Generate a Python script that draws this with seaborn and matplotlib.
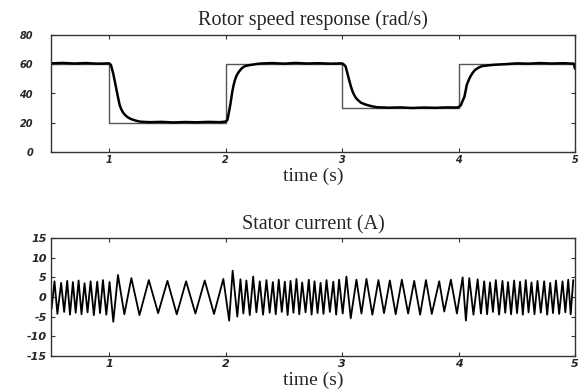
import pandas as pd
import numpy as np
import seaborn as sns
import matplotlib.pyplot as plt

# reference speed (step) in rad/s
ref_t = [0.5, 1.0, 2.0, 3.0, 4.0, 5.0]
ref_w = [60, 20, 60, 30, 60, 60]

spd_t = [0.5, 0.6, 0.7, 0.8, 0.9, 1.0, 1.015, 1.035, 1.05, 1.063, 1.077, 1.09, 1.105, 1.12, 1.14,
         1.16, 1.185, 1.21, 1.24, 1.27, 1.35, 1.45, 1.55, 1.65, 1.75, 1.85, 1.95, 2.0, 2.015, 2.025,
         2.037, 2.047, 2.057, 2.068, 2.08, 2.095, 2.115, 2.135, 2.16, 2.19, 2.22, 2.26, 2.3, 2.4, 2.5,
         2.6, 2.7, 2.8, 2.9, 3.0, 3.015, 3.03, 3.045, 3.06, 3.075, 3.09, 3.105, 3.12, 3.14, 3.16,
         3.19, 3.22, 3.26, 3.3, 3.4, 3.5, 3.6, 3.7, 3.8, 3.9, 3.99, 4.005, 4.02, 4.035, 4.05,
         4.06, 4.07, 4.085, 4.1, 4.12, 4.14, 4.17, 4.2, 4.25, 4.3, 4.41, 4.5, 4.6, 4.7, 4.8,
         4.9, 4.99, 5.0]
spd_w = [60.6, 60.9, 60.5, 60.8, 60.4, 60.6, 59.5, 53.4, 47.5, 42.3, 36.8, 32.0, 29.0, 26.8, 25.0,
         23.7, 22.6, 21.9, 21.2, 20.7, 20.4, 20.6, 20.2, 20.5, 20.3, 20.6, 20.4, 20.8, 21.9, 26.0,
         31.0, 36.0, 41.3, 45.7, 49.3, 52.5, 55.0, 57.0, 58.5, 59.2, 59.6, 60.1, 60.5, 60.8, 60.4,
         60.9, 60.5, 60.7, 60.4, 60.6, 59.8, 58.5, 54.0, 49.3, 45.0, 41.3, 38.8, 36.8, 35.2, 33.8,
         32.8, 32.0, 31.2, 30.6, 30.3, 30.5, 30.1, 30.4, 30.2, 30.5, 30.4, 31.0, 32.0, 35.0, 37.7,
         41.5, 45.7, 48.8, 51.4, 54.0, 56.0, 57.6, 58.7, 59.2, 59.6, 60.1, 60.6, 60.4, 60.8, 60.5,
         60.7, 60.4, 57.0]

# stator current: peaks and troughs
peak_t = [0.53, 0.587, 0.639, 0.688, 0.737, 0.788, 0.84, 0.897, 0.946, 1.003, 1.075, 1.19, 1.34,
          1.50, 1.66, 1.82, 1.98, 2.06, 2.127, 2.178, 2.236, 2.293, 2.35, 2.405, 2.456, 2.508,
          2.557, 2.608, 2.657, 2.714, 2.763, 2.815, 2.866, 2.924, 2.974, 3.037, 3.123, 3.209,
          3.312, 3.41, 3.513, 3.619, 3.72, 3.834, 3.934, 4.035, 4.092, 4.164, 4.22, 4.27, 4.32,
          4.377, 4.425, 4.477, 4.528, 4.577, 4.626, 4.678, 4.735, 4.787, 4.836, 4.893, 4.942, 4.985]
peak_i = [4.0, 3.6, 4.1, 3.8, 4.2, 3.5, 4.0, 3.9, 4.3, 3.8, 5.6, 4.8, 4.3,
          4.1, 4.0, 4.2, 4.6, 6.7, 4.5, 4.2, 5.2, 4.0, 4.3, 3.8, 4.4, 3.9,
          4.1, 4.6, 3.7, 4.4, 4.0, 3.6, 4.3, 3.9, 4.4, 5.2, 4.4, 4.6,
          4.3, 4.2, 4.4, 4.1, 4.3, 4.0, 4.4, 5.0, 4.8, 4.5, 4.0, 3.7, 4.3,
          4.1, 3.8, 4.2, 3.9, 4.3, 3.7, 4.1, 4.0, 3.6, 4.2, 4.0, 4.4, 4.3]
trough_t = [0.505, 0.555, 0.613, 0.663, 0.712, 0.762, 0.814, 0.868, 0.921, 0.975, 1.035, 1.13,
            1.26, 1.42, 1.58, 1.74, 1.90, 2.03, 2.10, 2.152, 2.207, 2.264, 2.321, 2.378, 2.43,
            2.482, 2.532, 2.582, 2.632, 2.686, 2.738, 2.789, 2.84, 2.895, 2.949, 3.005, 3.074,
            3.166, 3.26, 3.36, 3.46, 3.567, 3.67, 3.77, 3.877, 3.986, 4.063, 4.128, 4.192, 4.245,
            4.295, 4.348, 4.401, 4.451, 4.502, 4.552, 4.601, 4.652, 4.706, 4.761, 4.811, 4.864,
            4.917, 4.963]
trough_i = [-3.0, -4.3, -3.8, -4.5, -4.0, -4.4, -3.9, -4.6, -4.1, -4.5, -6.3, -4.4,
            -4.6, -4.1, -4.4, -4.2, -4.3, -6.0, -5.0, -4.2, -4.6, -3.9, -4.5, -4.0, -4.4,
            -3.8, -4.6, -4.0, -4.4, -3.9, -4.5, -4.1, -4.3, -3.8, -4.5, -4.2, -5.4,
            -4.2, -4.5, -4.1, -4.4, -4.2, -4.5, -4.3, -3.7, -4.2, -6.0, -4.5, -4.2, -4.4,
            -3.8, -4.5, -4.0, -4.4, -4.1, -4.5, -3.9, -4.4, -4.0, -4.5, -4.1, -4.3,
            -3.9, -4.4]

x_ticks = [1, 2, 3, 4, 5]
spd_yticks = [0, 20, 40, 60, 80]
cur_yticks = [-15, -10, -5, 0, 5, 10, 15]

ref = pd.DataFrame({'t': ref_t, 'w': ref_w})
spd = pd.DataFrame({'t': spd_t, 'w': spd_w})
cur = pd.concat([pd.DataFrame({'t': peak_t, 'i': peak_i}),
                 pd.DataFrame({'t': trough_t, 'i': trough_i})]).sort_values('t')

sns.set_style('ticks')
fig = plt.figure(figsize=(5.81, 3.92), dpi=100)
ax1 = fig.add_axes([51/581, 1-152/392, 524/581, 117/392])
ax2 = fig.add_axes([51/581, 1-356/392, 524/581, 118/392])

sns.lineplot(data=ref, x='t', y='w', ax=ax1, color='#555555', lw=1.0, drawstyle='steps-post')
sns.lineplot(data=spd, x='t', y='w', ax=ax1, color='black', lw=1.8)
sns.lineplot(data=cur, x='t', y='i', ax=ax2, color='black', lw=1.3, sort=False)

tickfont = dict(family='DejaVu Sans', weight='bold', style='italic')
for ax, yt, ylim, ypad, fs in [(ax1, spd_yticks, (0, 80), 13, 7),
                               (ax2, cur_yticks, (-15, 15), 3, 8)]:
    ax.set_xlim(0.5, 5)
    ax.set_ylim(*ylim)
    ax.set_xticks(x_ticks)
    ax.set_xticklabels([str(v) for v in x_ticks], fontsize=fs, **tickfont)
    ax.set_yticks(yt)
    ax.set_yticklabels([str(v) for v in yt], fontsize=fs, **tickfont)
    ax.tick_params(direction='in', top=True, right=True, length=3, width=0.8, color='#333333')
    ax.tick_params(axis='y', pad=ypad)
    ax.tick_params(axis='x', pad=2)
    for s in ax.spines.values():
        s.set_color('#333333')
        s.set_linewidth(1.0)
    ax.set_ylabel('')
    ax.set_xlabel('time (s)', family='Liberation Serif', fontsize=14, labelpad=2)

ax1.set_title('Rotor speed response (rad/s)', family='Liberation Serif', fontsize=14.5, pad=7)
ax2.set_title('Stator current (A)', family='Liberation Serif', fontsize=14.5, pad=6)

fig.savefig('out.png', dpi=100)
